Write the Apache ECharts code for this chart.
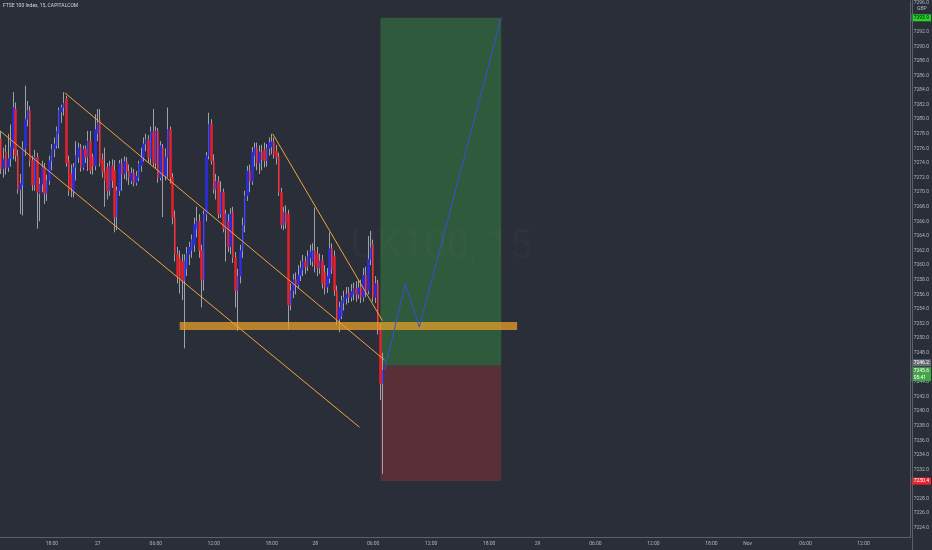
<!DOCTYPE html>
<html><head><meta charset="utf-8">
<script src="https://cdn.jsdelivr.net/npm/echarts@6/dist/echarts.min.js"></script>
<style>html,body{margin:0;padding:0;background:#2a2e39;}#c{width:932px;height:550px;}</style>
</head><body><div id="c"></div><script>
// ---- candles (15 min bars, FTSE 100 Index, CAPITALCOM) ----
const opens = [7277.3,7273.2,7275.5,7273.4,7274.6,7276.0,7281.4,7275.0,7270.4,7271.0,
7276.0,7280.0,7281.2,7274.3,7271.0,7274.8,7269.8,7271.1,7273.4,7269.8,
7271.6,7274.3,7275.9,7276.4,7278.0,7281.0,7281.6,7282.8,7274.3,7272.5,
7270.2,7273.4,7274.8,7276.1,7273.4,7275.9,7274.8,7277.0,7274.8,7273.6,
7278.0,7279.8,7274.5,7272.8,7273.4,7270.2,7273.6,7273.0,7266.6,7270.2,
7273.9,7272.5,7274.2,7272.9,7271.6,7272.6,7271.3,7272.0,7273.6,7274.8,
7276.6,7277.2,7274.6,7278.3,7274.0,7278.4,7272.0,7276.1,7272.2,7274.8,
7278.6,7272.0,7266.5,7261.5,7261.0,7260.5,7257.9,7259.5,7261.5,7262.0,
7262.8,7265.0,7266.0,7262.0,7258.0,7267.0,7275.0,7279.3,7274.3,7270.4,
7271.5,7267.0,7270.0,7265.0,7266.0,7262.5,7267.3,7261.0,7256.5,7258.5,
7262.0,7265.5,7269.5,7272.9,7271.5,7275.0,7276.1,7274.0,7275.5,7275.8,
7274.3,7276.0,7276.2,7276.9,7275.6,7274.8,7270.0,7265.5,7267.2,7267.0,
7254.5,7256.5,7258.0,7257.3,7258.6,7259.4,7260.5,7259.8,7261.0,7260.5,
7262.0,7261.5,7259.6,7260.6,7259.0,7257.0,7258.2,7262.3,7261.2,7256.5,
7252.6,7253.0,7254.8,7255.4,7256.2,7255.6,7256.0,7256.8,7256.0,7257.0,
7255.6,7258.6,7256.5,7260.8,7262.9,7255.6,7257.5,7251.2,7243.8];
const closes = [7273.2,7274.5,7273.4,7274.6,7276.2,7281.6,7275.0,7270.4,7271.2,7276.0,
7280.0,7281.2,7274.3,7271.0,7274.8,7270.0,7271.1,7273.4,7269.8,7271.6,
7274.3,7275.9,7276.6,7278.4,7281.2,7281.6,7282.2,7274.0,7270.2,7270.6,
7273.4,7275.0,7276.1,7273.4,7275.9,7274.8,7277.0,7273.0,7273.6,7278.6,
7279.5,7274.0,7272.8,7271.6,7270.2,7273.6,7271.6,7266.6,7270.2,7273.9,
7272.5,7274.2,7272.9,7272.0,7272.6,7271.3,7272.2,7273.9,7274.8,7276.6,
7277.2,7274.8,7278.3,7274.0,7278.4,7272.0,7276.4,7272.5,7274.8,7278.6,
7272.0,7266.5,7261.5,7258.5,7258.0,7257.9,7260.6,7261.6,7262.5,7263.5,
7265.6,7266.0,7262.0,7258.0,7267.0,7275.0,7279.3,7274.3,7270.4,7271.5,
7267.0,7270.0,7265.0,7267.0,7262.5,7267.0,7261.0,7256.5,7258.5,7262.0,
7265.5,7269.5,7272.9,7271.5,7275.5,7276.1,7274.0,7275.5,7274.5,7274.3,
7276.0,7276.8,7276.9,7275.2,7274.8,7270.0,7265.5,7267.2,7265.8,7254.5,
7256.5,7258.0,7257.3,7258.6,7259.6,7260.5,7259.8,7261.2,7261.8,7262.0,
7260.0,7259.6,7260.6,7257.5,7257.0,7258.5,7262.3,7259.5,7256.5,7252.6,
7254.2,7255.2,7255.6,7256.0,7255.6,7256.4,7256.8,7256.0,7256.9,7255.6,
7258.6,7256.5,7260.8,7262.4,7255.6,7257.5,7251.2,7243.8,7245.6];
const lows = [7272.5,7272.0,7272.4,7272.8,7273.5,7274.5,7274.2,7269.8,7267.0,7266.8,
7275.0,7279.0,7273.5,7270.2,7270.2,7265.0,7266.0,7270.0,7268.4,7268.8,
7271.0,7273.0,7274.8,7276.0,7276.0,7279.5,7280.5,7273.5,7269.5,7269.3,
7269.3,7271.6,7274.0,7272.8,7273.0,7274.0,7272.9,7272.5,7272.4,7273.0,
7277.0,7273.5,7272.0,7268.0,7269.0,7269.5,7270.6,7264.5,7264.8,7269.5,
7270.2,7271.8,7271.6,7271.0,7271.1,7270.8,7270.9,7271.5,7272.8,7274.2,
7275.6,7274.0,7273.9,7273.5,7273.2,7271.3,7271.6,7266.6,7271.6,7272.0,
7271.2,7265.6,7260.5,7257.5,7256.1,7255.2,7248.6,7258.5,7260.0,7261.0,
7261.8,7263.8,7261.0,7254.2,7256.5,7266.0,7274.5,7273.8,7269.8,7269.0,
7266.4,7266.5,7264.5,7260.5,7261.8,7261.5,7260.3,7254.2,7251.0,7257.5,
7261.0,7264.5,7268.8,7270.0,7271.0,7273.5,7273.0,7272.5,7273.0,7273.4,
7273.5,7275.0,7275.2,7274.6,7273.8,7269.5,7265.0,7264.8,7265.0,7251.2,
7253.8,7255.5,7256.0,7256.8,7257.8,7258.5,7258.8,7259.2,7260.0,7259.8,
7259.0,7258.5,7258.8,7256.8,7256.0,7256.2,7257.5,7258.8,7255.8,7251.8,
7250.8,7252.6,7253.8,7254.6,7254.8,7255.0,7255.2,7255.0,7255.4,7254.8,
7255.0,7255.6,7256.0,7260.0,7255.0,7254.8,7250.5,7241.5,7231.4];
const highs = [7278.4,7276.1,7276.5,7278.0,7279.3,7283.7,7282.3,7275.8,7272.5,7277.0,
7284.6,7282.5,7281.8,7275.0,7275.8,7275.4,7272.0,7274.3,7274.0,7272.4,
7275.0,7276.6,7277.5,7279.0,7281.6,7282.0,7283.7,7283.2,7275.0,7273.8,
7274.0,7277.0,7276.8,7276.6,7276.4,7276.4,7278.4,7278.4,7275.3,7280.7,
7281.4,7281.4,7275.3,7276.1,7274.0,7274.3,7274.5,7274.4,7270.8,7274.4,
7274.6,7274.9,7274.8,7273.8,7273.4,7273.2,7272.9,7274.3,7276.1,7277.5,
7278.0,7277.8,7279.0,7281.4,7279.0,7278.8,7277.0,7276.6,7276.0,7281.6,
7279.0,7272.6,7267.5,7262.5,7262.0,7261.5,7261.5,7262.5,7263.2,7264.2,
7266.5,7268.0,7267.0,7262.8,7267.5,7275.5,7280.9,7280.0,7275.2,7272.5,
7272.2,7271.5,7270.5,7267.6,7267.0,7267.8,7268.0,7261.8,7259.5,7262.8,
7266.5,7270.2,7273.6,7273.8,7276.2,7276.8,7276.8,7276.4,7276.5,7276.8,
7276.6,7277.5,7278.0,7277.5,7276.5,7275.4,7270.6,7268.0,7268.2,7267.6,
7257.5,7258.8,7259.0,7260.0,7260.6,7261.4,7261.2,7262.0,7262.8,7263.0,
7267.9,7262.5,7261.6,7261.4,7260.0,7259.6,7264.5,7263.0,7262.0,7257.2,
7255.0,7255.8,7256.5,7257.0,7257.0,7257.4,7257.6,7257.8,7258.0,7258.0,
7259.6,7259.8,7264.0,7264.7,7263.5,7258.5,7258.0,7252.0,7248.0];

// ---- time axis (bar index -> label) ----
const barCount = 377;
const xTickIndex = [21, 40, 64, 88, 112, 130, 154, 178, 202, 222, 246, 270, 294, 309, 333, 357];
const xTickText = ['18:00','27','06:00','12:00','18:00','28','06:00','12:00','18:00','29','06:00','12:00','18:00','Nov','06:00','12:00'];

// ---- price axis ----
const yMin = 7222.74, yMax = 7296.2;
const yTicks = [7224,7226,7228,7232,7234,7236,7238,7240,7242,7244,7248,7250,7252,7254,7256,7258,
7260,7262,7264,7266,7268,7270,7272,7274,7276,7278,7280,7282,7284,7286,7288,7290,7292,7296];

// ---- drawings (bar index, price) ----
const channelUpper = [[26.4, 7283.6], [158.7, 7247.0]];
const channelLower = [[-0.5, 7278.4], [148.3, 7237.8]];
const wedgeUpper = [[112.4, 7278.0], [157.8, 7252.4]];
const projection = [[158.7, 7245.6], [167.3, 7257.4], [173.1, 7251.5], [207.0, 7293.9]];
const positionSpan = [157, 207];
const entryPrice = 7246.2, targetPrice = 7293.9, stopPrice = 7230.4, lastPrice = 7245.6;
const countdown = '05:41';
const supportZone = [73.9, 213.6, 7251.1, 7252.2];

const categories = Array.from({length: barCount}, (_, i) => String(i));
const wickData = opens.map((o, i) => [o, closes[i], lows[i], highs[i]]);
const bodyData = opens.map((o, i) => [o, closes[i], Math.min(o, closes[i]), Math.max(o, closes[i])]);
const rects = [
  [positionSpan[0], positionSpan[1], entryPrice, targetPrice],
  [positionSpan[0], positionSpan[1], stopPrice, entryPrice]
];
const rectFill = ['#305a3c', '#5a2f37'];

const FONT = 'Roboto';
const AXIS = '#5d606b';
const chart = echarts.init(document.getElementById('c'), null, {renderer: 'canvas'});

function rectRender(fills, params, api) {
  const p0 = api.coord([api.value(0), api.value(3)]);
  const p1 = api.coord([api.value(1), api.value(2)]);
  return {type: 'rect', shape: {x: p0[0], y: p0[1], width: p1[0] - p0[0], height: p1[1] - p0[1]},
          style: {fill: fills[params.dataIndex]}};
}
function tag(value, bg, fg, offsetY, text) {
  return {yAxis: value, label: {show: true, position: 'end', distance: 1,
    formatter: text || value.toFixed(1), backgroundColor: bg, color: fg, fontSize: 5,
    fontFamily: FONT, lineHeight: 7, padding: [0, 2, 0, 2], offset: [0, offsetY], opacity: 1}};
}

chart.setOption({
  animation: false,
  backgroundColor: '#2a2e39',
  grid: {left: 0, right: 20, top: 0, bottom: 13, containLabel: false},
  xAxis: [{
    type: 'category', data: categories, boundaryGap: true, gridIndex: 0,
    axisLine: {show: true, onZero: false, lineStyle: {color: AXIS, width: 1}},
    axisTick: {show: false}, splitLine: {show: false},
    axisLabel: {show: true, color: '#b2b5be', fontSize: 5, fontFamily: FONT, margin: 4,
      interval: (idx) => xTickIndex.indexOf(idx) >= 0,
      formatter: (v, idx) => { const k = xTickIndex.indexOf(Number(v)); return k >= 0 ? xTickText[k] : ''; }}
  }, {
    type: 'value', min: -0.5, max: barCount - 0.5, show: false, gridIndex: 0,
    axisLine: {onZero: false}
  }],
  yAxis: [{
    type: 'value', position: 'right', min: yMin, max: yMax, scale: true,
    axisLine: {show: true, onZero: false, lineStyle: {color: AXIS, width: 1}},
    axisTick: {show: false}, splitLine: {show: false},
    axisLabel: {show: true, color: '#b2b5be', fontSize: 5, fontFamily: FONT, margin: 3,
      customValues: yTicks, formatter: (v) => Number(v).toFixed(1)}
  }],
  graphic: [
    {type: 'text', left: 3, top: 3, z: 10, style: {text: 'FTSE 100 Index, 15, CAPITALCOM', fill: '#d1d4dc', fontSize: 5, fontFamily: FONT}},
    {type: 'text', left: 917, top: 6, z: 10, style: {text: 'GBP', fill: '#b2b5be', fontSize: 5, fontFamily: FONT}},
    {type: 'text', right: 400, top: 228, z: 100, silent: true, style: {text: 'UK100, 15', fill: 'rgba(255,255,255,0.018)', fontSize: 40, fontFamily: FONT}},
    {type: 'line', z: 100, silent: true, shape: {x1: 912.5, y1: 0, x2: 912.5, y2: 550}, style: {stroke: AXIS, lineWidth: 1}}
  ],
  series: [
    {type: 'custom', name: 'position', xAxisIndex: 1, yAxisIndex: 0, z: 1, silent: true,
     renderItem: (p, api) => rectRender(rectFill, p, api), data: rects, encode: {x: [0, 1], y: [2, 3]}},
    {type: 'candlestick', name: 'wick', xAxisIndex: 0, yAxisIndex: 0, z: 2, barWidth: 1,
     itemStyle: {color: '#9ea1aa', color0: '#9ea1aa', borderColor: '#9ea1aa', borderColor0: '#9ea1aa', borderColorDoji: '#9ea1aa', borderWidth: 1},
     data: wickData},
    {type: 'candlestick', name: 'body', xAxisIndex: 0, yAxisIndex: 0, z: 3, barWidth: 2,
     itemStyle: {color: '#2a2de6', color0: '#e8202a', borderColor: '#2a2de6', borderColor0: '#e8202a', borderColorDoji: '#2a2de6', borderWidth: 0.5},
     data: bodyData},
    {type: 'custom', name: 'zone', xAxisIndex: 1, yAxisIndex: 0, z: 4, silent: true,
     renderItem: (p, api) => rectRender(['rgba(230,160,40,0.75)'], p, api), data: [supportZone], encode: {x: [0, 1], y: [2, 3]}},
    {type: 'line', name: 'channelUpper', xAxisIndex: 1, yAxisIndex: 0, z: 5, data: channelUpper, symbol: 'none',
     lineStyle: {color: '#f0a43a', width: 1}},
    {type: 'line', name: 'channelLower', xAxisIndex: 1, yAxisIndex: 0, z: 5, data: channelLower, symbol: 'none',
     lineStyle: {color: '#f0a43a', width: 1}},
    {type: 'line', name: 'wedgeUpper', xAxisIndex: 1, yAxisIndex: 0, z: 5, data: wedgeUpper, symbol: 'none',
     lineStyle: {color: '#f0a43a', width: 1}},
    {type: 'line', name: 'projection', xAxisIndex: 1, yAxisIndex: 0, z: 6, data: projection, symbol: 'none',
     lineStyle: {color: '#2f52d8', width: 1}},
    {type: 'line', name: 'priceTags', xAxisIndex: 1, yAxisIndex: 0, z: 20, data: [], symbol: 'none', clip: false,
     markLine: {silent: true, symbol: 'none', animation: false,
       lineStyle: {color: 'rgba(0,0,0,0)', width: 1, opacity: 1},
       data: [
         tag(targetPrice, '#25d425', '#0c0c0c', 0),
         tag(entryPrice, '#6b6e79', '#ffffff', -3),
         tag(lastPrice, '#43a547', '#ffffff', 4, lastPrice.toFixed(1) + '\n' + countdown),
         tag(stopPrice, '#f0232d', '#ffffff', 0)
       ]}}
  ]
});
</script></body></html>
